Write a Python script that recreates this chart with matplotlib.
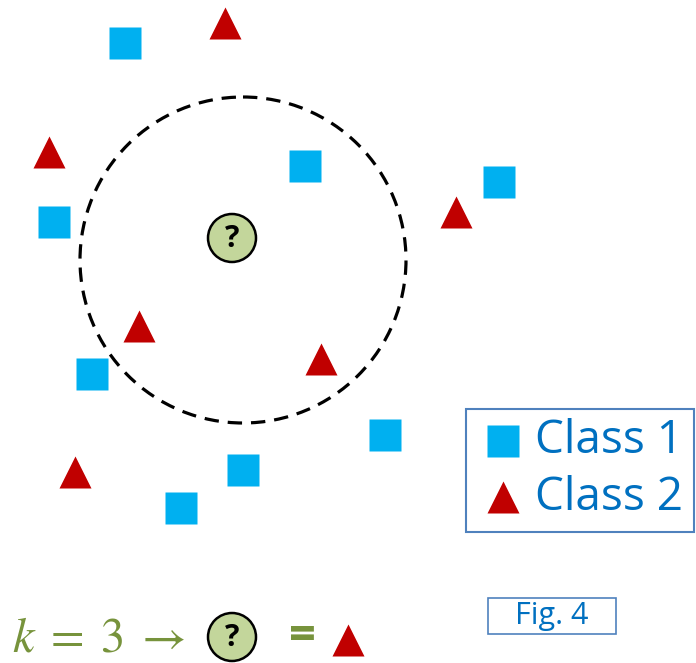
import matplotlib.pyplot as plt
from matplotlib.patches import Circle, Rectangle

# pixel-like coordinates (y grows downward)
class1_x = [125, 305, 499, 54, 92, 385, 243, 181]
class1_y = [43, 166, 182, 222, 374, 435, 470, 508]
class2_x = [225, 49, 456, 139, 321, 75]
class2_y = [23, 152, 212, 326, 359, 472]
query = (232, 238)
k = 3
neigh_center = (243, 260)
neigh_radius = 163

blue = '#00B0F0'
red = '#C00000'
text_blue = '#0070C0'
green = '#77933C'
q_fill = '#C3D69B'

fig = plt.figure(figsize=(6.96, 6.63), dpi=100)
ax = fig.add_axes([0, 0, 1, 1])
ax.set_xlim(0, 696)
ax.set_ylim(663, 0)
ax.axis('off')

ax.plot(class1_x, class1_y, 's', ms=23, color=blue, mec='none')
ax.plot(class2_x, class2_y, '^', ms=23, color=red, mec='none')

# k-neighbourhood
ax.add_patch(Circle(neigh_center, neigh_radius, fill=False, ec='black',
                    lw=2.3, ls=(0, (4.5, 2.8))))

def question(x, y):
    ax.add_patch(Circle((x, y), 24, fc=q_fill, ec='black', lw=1.8, zorder=3))
    ax.text(x, y + 1, '?', fontsize=22, fontweight='bold', ha='center', va='center',
            family='Open Sans', zorder=4)

question(*query)

# legend box
ax.add_patch(Rectangle((466, 409), 228, 123, fill=False, ec='#4F81BD', lw=1.5))
ax.plot([503], [441], 's', ms=23, color=blue, mec='none')
ax.plot([503], [497], '^', ms=23, color=red, mec='none')
ax.text(535, 441, 'Class 1', fontsize=33, color=text_blue, va='center', family='Open Sans')
ax.text(535, 498, 'Class 2', fontsize=33, color=text_blue, va='center', family='Open Sans')

# figure label
ax.add_patch(Rectangle((488, 598), 128, 36, fill=False, ec='#4F81BD', lw=1.2))
ax.text(552, 616, 'Fig. 4', fontsize=22, color=text_blue, ha='center', va='center',
        family='Open Sans')

# bottom formula
plt.rcParams['mathtext.fontset'] = 'stix'
ax.text(12, 638, r'$k\;=\;%d\;\rightarrow$' % k, fontsize=35, color=green, va='center')
question(232, 637)
ax.text(302, 637, '=', fontsize=34, fontweight='bold', color=green, ha='center', va='center',
        family='Open Sans')
ax.plot([348], [640], '^', ms=23, color=red, mec='none')

fig.savefig('out.png')
